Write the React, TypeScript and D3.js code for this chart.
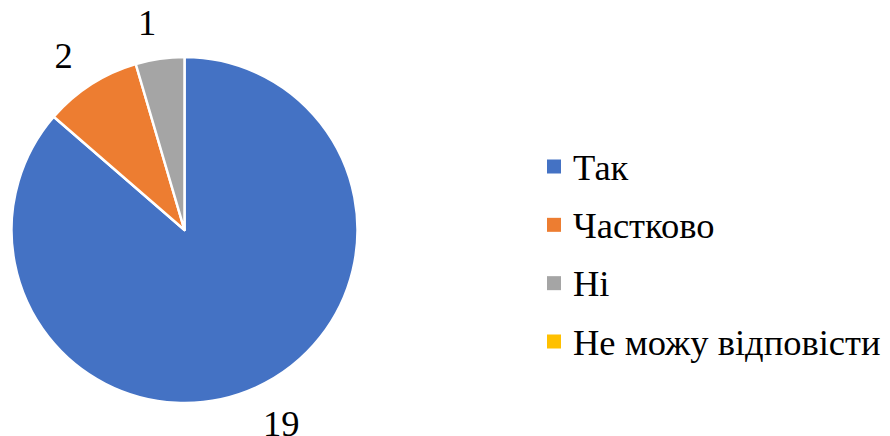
import React from 'react';
import * as d3 from 'd3';

const categories = ['Так', 'Частково', 'Ні', 'Не можу відповісти'];
const values = [19, 2, 1, 0];
const colors = ['#4472C4', '#ED7D31', '#A5A5A5', '#FFC000'];

const WIDTH = 890;
const HEIGHT = 436;
const FONT = 'Liberation Serif';
const FONT_SIZE = 36.5;

type Row = { name: string; value: number; color: string };

const App: React.FC = () => {
  const cx = 184.5;
  const cy = 230;
  const radius = 173;

  const rows: Row[] = categories.map((c, i) => ({ name: c, value: values[i], color: colors[i] }));

  const arcs = d3
    .pie<Row>()
    .sort(null)
    .value(d => d.value)(rows)
    .filter(a => a.value > 0);

  const arcGen = d3
    .arc<d3.PieArcDatum<Row>>()
    .innerRadius(0)
    .outerRadius(radius);

  // outside-end labels: push the label box out from the rim along the mid angle
  const labels = arcs.map(a => {
    const mid = (a.startAngle + a.endAngle) / 2 - 0.035;
    const text = String(a.value);
    const w = text.length * FONT_SIZE * 0.5;
    const h = FONT_SIZE * 0.68;
    const ext = Math.abs(Math.sin(mid)) * w / 2 + Math.abs(Math.cos(mid)) * h / 2;
    const r = radius + 24 + ext;
    return { text, x: Math.sin(mid) * r, y: -Math.cos(mid) * r };
  });

  const legendY = d3
    .scalePoint<string>()
    .domain(categories)
    .range([166.5, 341.5]);

  return (
    <svg
      width={WIDTH}
      height={HEIGHT}
      style={{ position: 'absolute', left: 0, top: 0, background: '#fff' }}
    >
      <g transform={`translate(${cx},${cy})`}>
        {arcs.map(a => (
          <path
            key={a.data.name}
            d={arcGen(a) ?? ''}
            fill={a.data.color}
            stroke="#fff"
            strokeWidth={2.5}
            strokeLinejoin="round"
          />
        ))}
        {labels.map(l => (
          <text
            key={l.text}
            x={l.x}
            y={l.y}
            dy="0.34em"
            textAnchor="middle"
            fontFamily={FONT}
            fontSize={FONT_SIZE}
            fill="#000"
          >
            {l.text}
          </text>
        ))}
      </g>
      <g>
        {rows.map(d => {
          const y = legendY(d.name)!;
          return (
            <g key={d.name}>
              <rect x={547} y={y - 7} width={14} height={14} fill={d.color} />
              <text x={573} y={y + 13} fontFamily={FONT} fontSize={FONT_SIZE} fill="#000">
                {d.name}
              </text>
            </g>
          );
        })}
      </g>
    </svg>
  );
};

export default App;
